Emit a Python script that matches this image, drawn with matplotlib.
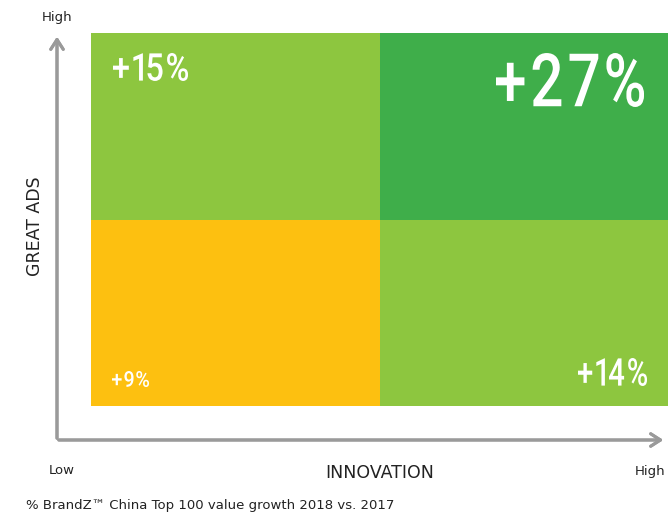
import matplotlib.pyplot as plt
from matplotlib.font_manager import FontProperties
from matplotlib.patches import PathPatch
from matplotlib.path import Path
from matplotlib.textpath import TextPath
from matplotlib.transforms import Affine2D, IdentityTransform

# quadrants: (innovation, great ads) -> growth
quad_x = [0, 1, 0, 1]          # 0 = low, 1 = high innovation
quad_y = [1, 1, 0, 0]          # 0 = low, 1 = high great ads
growth = [15, 27, 9, 14]
colors = ["#8DC63F", "#3FAE4A", "#FDC010", "#8DC63F"]

W, H = 668, 518
fig = plt.figure(figsize=(W / 100, H / 100), dpi=100)

def fx(px):
    return px / W

def fy(py):
    return 1 - py / H

ax = fig.add_axes([fx(91), fy(406), fx(668) - fx(91), fy(33) - fy(406)])
ax.bar(quad_x, [1] * 4, bottom=quad_y, width=1, align="edge", color=colors, linewidth=0)
ax.set_xlim(0, 2)
ax.set_ylim(0, 2)
ax.axis("off")

# condensed, letter-spaced white labels built from glyph paths
# box: (left px, right px, top px, bottom px) in the picture
label_box = {15: (113, 188, 53, 81), 27: (496, 644, 53, 107),
             9: (112, 149, 371, 387), 14: (578, 647, 358, 386)}
prop = FontProperties(family="Roboto", weight="medium")

def spaced_path(txt, gap=0.14):
    parts, x = [], 0
    for ch in txt:
        p = TextPath((0, 0), ch, size=1, prop=prop)
        e = p.get_extents()
        parts.append(Affine2D().translate(x - e.x0, 0).transform_path(p))
        x += e.width + gap
    return Path.make_compound_path(*parts)

for g in growth:
    left, right, top, bottom = label_box[g]
    tp = spaced_path(f"+{g}%")
    ext = tp.get_extents()
    sx = (right - left) / ext.width
    sy = (bottom - top) / ext.height
    tr = Affine2D().translate(-ext.x0, -ext.y0).scale(sx, sy).translate(left, H - bottom)
    fig.add_artist(PathPatch(tr.transform_path(tp), facecolor="white", edgecolor="none",
                             transform=IdentityTransform()))

# axis arrows
arrow = dict(arrowstyle="->,head_length=0.7,head_width=0.45", color="#9a9a9a", lw=2.2)
fig.add_artist(plt.annotate("", xy=(fx(57), fy(34)), xytext=(fx(57), fy(441)),
                            xycoords="figure fraction", arrowprops=arrow))
fig.add_artist(plt.annotate("", xy=(fx(666), fy(440)), xytext=(fx(56), fy(440)),
                            xycoords="figure fraction", arrowprops=arrow))

fig.text(fx(57), fy(18), "High", ha="center", va="center", fontsize=9.5, color="#222222")
fig.text(fx(62), fy(471), "Low", ha="center", va="center", fontsize=9.5, color="#222222")
fig.text(fx(650), fy(471), "High", ha="center", va="center", fontsize=9.5, color="#222222")
fig.text(fx(380), fy(473), "INNOVATION", ha="center", va="center", fontsize=12.5, color="#222222")
fig.text(fx(35), fy(226), "GREAT ADS", ha="center", va="center", rotation=90,
         fontsize=12.5, color="#222222")
fig.text(fx(26), fy(506), "% BrandZ\u2122 China Top 100 value growth 2018 vs. 2017",
         ha="left", va="center", fontsize=9.5, color="#222222")

fig.savefig("out.png", dpi=100)
